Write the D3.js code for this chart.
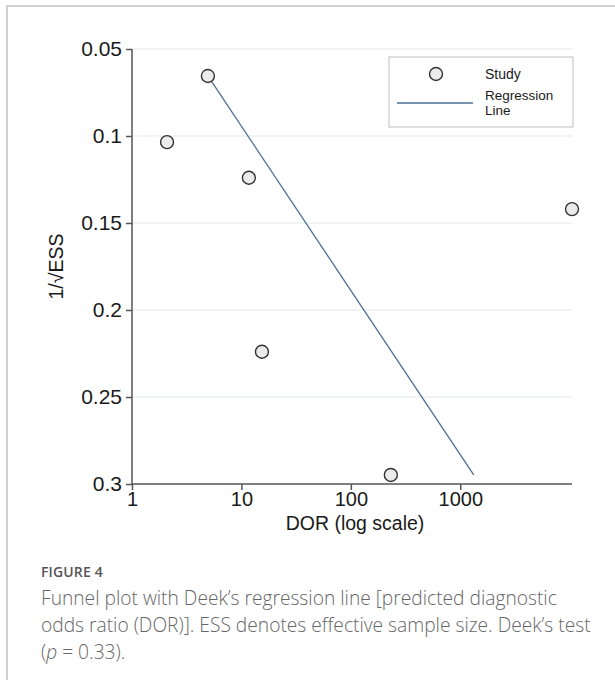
<!DOCTYPE html>
<html>
<head>
<meta charset="utf-8">
<script src="https://cdn.jsdelivr.net/npm/d3@7"></script>
<style>
  html, body { margin: 0; padding: 0; background: #fff; }
  .caption-title { position: absolute; left: 41px; top: 562px; font-family: "Open Sans", sans-serif; font-size: 14px; font-weight: 600; color: #555; letter-spacing: 0.01em; }
  .caption { position: absolute; left: 41px; top: 584px; white-space: nowrap; font-family: "Open Sans", sans-serif; font-size: 19.2px; line-height: 27px; color: #666; font-weight: 300; }
</style>
</head>
<body>
<svg id="chart" width="615" height="680" style="position:absolute;left:0;top:0"></svg>
<div class="caption-title">FIGURE 4</div>
<div class="caption">Funnel plot with Deek’s regression line [predicted diagnostic<br>odds ratio (DOR)]. ESS denotes effective sample size. Deek’s test<br>(<i>p</i>&nbsp;=&nbsp;0.33).</div>
<script>
// Funnel plot: DOR on log x, 1/sqrt(ESS) on linear y

// study points
const studyDor = [4.94, 2.09, 11.7, 10500, 15.4, 232];
const studyInvEss = [0.0655, 0.1035, 0.124, 0.142, 0.224, 0.2948];

// regression line end points
const regDor = [4.94, 1328];
const regInvEss = [0.0655, 0.2948];

const xTicks = [1, 10, 100, 1000];
const yTicks = [0.05, 0.1, 0.15, 0.2, 0.25, 0.3];
const yTickLabels = ["0.05", "0.1", "0.15", "0.2", "0.25", "0.3"];

const AXIS = "#555";
const GRID = "#eaf2f4";
const LINE = "#4d7096";
const FONT = "'Liberation Sans', Arial, sans-serif";

const svg = d3.select("#chart");

// outer frame
svg.append("rect")
  .attr("x", 7).attr("y", 6).attr("width", 700).attr("height", 800)
  .attr("fill", "none").attr("stroke", "#cfcfcf").attr("stroke-width", 2);

const x = d3.scaleLog().domain([1, d3.max(studyDor)]).range([132, 572]);
const y = d3.scaleLinear().domain([0.05, 0.3]).range([49, 484]);

// gridlines
svg.append("g").selectAll("line").data(yTicks.slice(0, -1)).enter()
  .append("line")
  .attr("x1", x(1) + 1).attr("x2", x.range()[1])
  .attr("y1", d => y(d)).attr("y2", d => y(d))
  .attr("stroke", GRID).attr("stroke-width", 1.5);

// y axis
const yAxis = svg.append("g")
  .attr("transform", `translate(${x(1)},0)`)
  .call(d3.axisLeft(y).tickValues(yTicks).tickSize(6).tickPadding(4)
    .tickFormat((d, i) => yTickLabels[i]));
yAxis.select(".domain").attr("stroke", AXIS).attr("stroke-width", 1.5).attr("d", `M0,${y(0.05)}V${y(0.3)}`);
yAxis.selectAll(".tick line").attr("stroke", AXIS).attr("stroke-width", 1.5);
yAxis.selectAll(".tick text").attr("font-family", FONT).attr("font-size", 21).attr("fill", "#1a1a1a");

// x axis
const xAxis = svg.append("g")
  .attr("transform", `translate(0,${y(0.3)})`)
  .call(d3.axisBottom(x).tickValues(xTicks).tickSize(6).tickPadding(2).tickFormat(d3.format("d")));
xAxis.select(".domain").attr("stroke", AXIS).attr("stroke-width", 1.5).attr("d", `M${x(1)},0H${x.range()[1]}`);
xAxis.selectAll(".tick line").attr("stroke", AXIS).attr("stroke-width", 1.5);
xAxis.selectAll(".tick text").attr("font-family", FONT).attr("font-size", 20).attr("fill", "#1a1a1a");

// axis titles
svg.append("text")
  .attr("x", 355).attr("y", 530)
  .attr("text-anchor", "middle")
  .attr("font-family", FONT).attr("font-size", 19.5).attr("fill", "#1a1a1a")
  .text("DOR (log scale)");

svg.append("text")
  .attr("transform", `translate(63,${(y(0.05) + y(0.3)) / 2}) rotate(-90)`)
  .attr("text-anchor", "middle")
  .attr("font-family", FONT).attr("font-size", 19.5).attr("fill", "#1a1a1a")
  .text("1/√ESS");

// regression line
svg.append("line")
  .attr("x1", x(regDor[0])).attr("y1", y(regInvEss[0]))
  .attr("x2", x(regDor[1])).attr("y2", y(regInvEss[1]))
  .attr("stroke", LINE).attr("stroke-width", 1.3);

// studies
svg.append("g").selectAll("circle").data(studyDor).enter()
  .append("circle")
  .attr("cx", d => x(d)).attr("cy", (d, i) => y(studyInvEss[i]))
  .attr("r", 6.5)
  .attr("fill", "#ebebeb").attr("stroke", "#333").attr("stroke-width", 1.4);

// legend
const lg = svg.append("g").attr("transform", "translate(389,57)");
lg.append("rect").attr("width", 184).attr("height", 70)
  .attr("fill", "#fff").attr("stroke", "#bdbdbd").attr("stroke-width", 1);
lg.append("circle").attr("cx", 47).attr("cy", 17).attr("r", 6.5)
  .attr("fill", "#ebebeb").attr("stroke", "#333").attr("stroke-width", 1.4);
lg.append("text").attr("x", 96).attr("y", 17).attr("dy", "0.35em")
  .attr("font-family", FONT).attr("font-size", 14).attr("fill", "#1a1a1a").text("Study");
lg.append("line").attr("x1", 8).attr("x2", 84).attr("y1", 46).attr("y2", 46)
  .attr("stroke", LINE).attr("stroke-width", 1.3);
lg.append("text").attr("x", 96).attr("y", 38.5).attr("dy", "0.35em")
  .attr("font-family", FONT).attr("font-size", 13.5).attr("fill", "#1a1a1a").text("Regression");
lg.append("text").attr("x", 96).attr("y", 53.5).attr("dy", "0.35em")
  .attr("font-family", FONT).attr("font-size", 13.5).attr("fill", "#1a1a1a").text("Line");
</script>
</body>
</html>
